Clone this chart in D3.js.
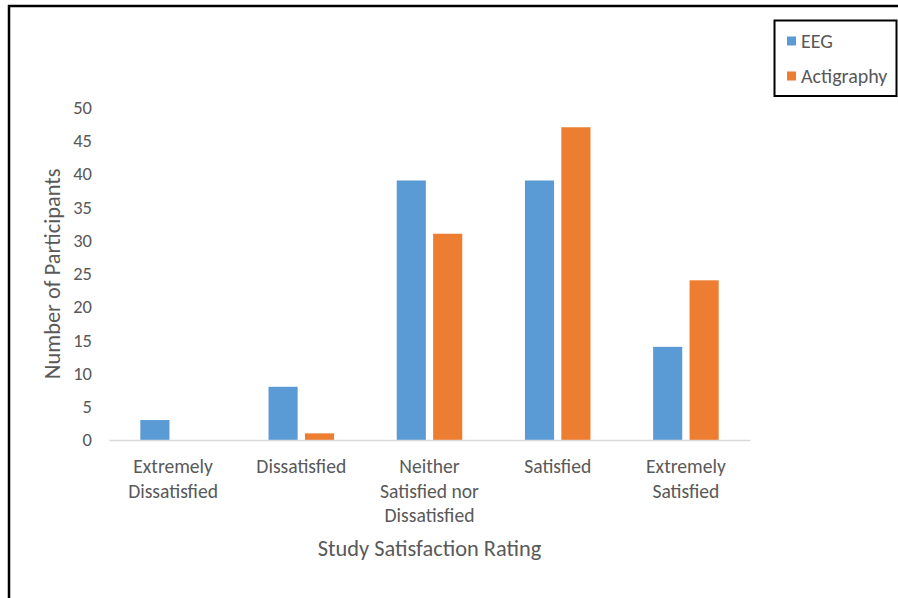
<!DOCTYPE html>
<html>
<head>
<meta charset="utf-8">
<script src="https://cdn.jsdelivr.net/npm/d3@7"></script>
<style>
  html, body { margin: 0; padding: 0; background: #fff; }
  svg { display: block; }
  text { font-family: Carlito, Lato, "Liberation Sans", sans-serif; fill: #595959; }
</style>
</head>
<body>
<svg id="chart" width="898" height="598"></svg>
<script>
// Survey results: how satisfied participants were with each study arm
const categories = [
  ["Extremely", "Dissatisfied"],
  ["Dissatisfied"],
  ["Neither", "Satisfied nor", "Dissatisfied"],
  ["Satisfied"],
  ["Extremely", "Satisfied"]
];
const seriesNames = ["EEG", "Actigraphy"];
const eegValues = [3, 8, 39, 39, 14];
const actigraphyValues = [0, 1, 31, 47, 24];
const yTicks = [0, 5, 10, 15, 20, 25, 30, 35, 40, 45, 50];
const colors = ["#5B9BD5", "#ED7D31"];
const xTitle = "Study Satisfaction Rating";
const yTitle = "Number of Participants";

const svg = d3.select("#chart");
const catKeys = categories.map(c => c.join(" "));
const seriesValues = [eegValues, actigraphyValues];

// Chart frame (only the top and left edges fall inside the view)
svg.append("rect")
  .attr("x", 9).attr("y", 6)
  .attr("width", 920).attr("height", 620)
  .attr("fill", "none").attr("stroke", "#000").attr("stroke-width", 2.5);

const x0 = d3.scaleBand().domain(catKeys).range([109, 750]).padding(0);
const x1 = d3.scaleBand().domain(seriesNames).range([0, x0.bandwidth()])
  .paddingInner(0.2).paddingOuter(0.86);
const y = d3.scaleLinear().domain([0, 50]).range([440, 107.3]);

// Value axis labels (no axis line or gridlines)
const yAxis = d3.axisLeft(y).tickValues(yTicks).tickSize(0).tickPadding(0);
const gy = svg.append("g").attr("transform", "translate(92,0)").call(yAxis);
gy.select(".domain").remove();
gy.selectAll("text")
  .attr("font-size", 18.5)
  .attr("fill", "#595959")
  .style("font-family", "Carlito, Lato, 'Liberation Sans', sans-serif");

// Bars
const groups = svg.append("g").selectAll("g")
  .data(catKeys)
  .join("g")
  .attr("transform", d => `translate(${x0(d)},0)`);

groups.selectAll("rect")
  .data((d, i) => seriesNames.map((s, j) => ({ s, v: seriesValues[j][i], j })))
  .join("rect")
  .attr("x", d => x1(d.s))
  .attr("y", d => y(d.v))
  .attr("width", x1.bandwidth())
  .attr("height", d => y(0) - y(d.v))
  .attr("fill", d => colors[d.j]);

// Category axis line
const xAxis = d3.axisBottom(x0).tickSize(0).tickFormat("");
const gx = svg.append("g").attr("transform", `translate(0,${y(0)})`).call(xAxis);
gx.select(".domain").attr("stroke", "#D9D9D9").attr("stroke-width", 1.5);

// Multi-line category labels
categories.forEach((lines, i) => {
  const cx = x0(catKeys[i]) + x0.bandwidth() / 2;
  const t = svg.append("text")
    .attr("text-anchor", "middle")
    .attr("font-size", 19.6);
  lines.forEach((ln, k) => {
    t.append("tspan").attr("x", cx).attr("y", 473 + k * 24.6).text(ln);
  });
});

// Axis titles
svg.append("text")
  .attr("x", (109 + 750) / 2).attr("y", 556)
  .attr("text-anchor", "middle")
  .attr("font-size", 22.4)
  .text(xTitle);

svg.append("text")
  .attr("transform", `translate(59.5,${(y(0) + y(50)) / 2}) rotate(-90)`)
  .attr("text-anchor", "middle")
  .attr("font-size", 22.4)
  .text(yTitle);

// Legend
const lg = svg.append("g");
lg.append("rect")
  .attr("x", 774.5).attr("y", 20.5)
  .attr("width", 122).attr("height", 75.5)
  .attr("fill", "#fff").attr("stroke", "#000").attr("stroke-width", 2);
seriesNames.forEach((name, i) => {
  const cy = 41 + i * 35;
  lg.append("rect")
    .attr("x", 787).attr("y", cy - 4.5)
    .attr("width", 9).attr("height", 9)
    .attr("fill", colors[i]);
  lg.append("text")
    .attr("x", 801).attr("y", cy + 6.5)
    .attr("font-size", 20)
    .text(name);
});
</script>
</body>
</html>
